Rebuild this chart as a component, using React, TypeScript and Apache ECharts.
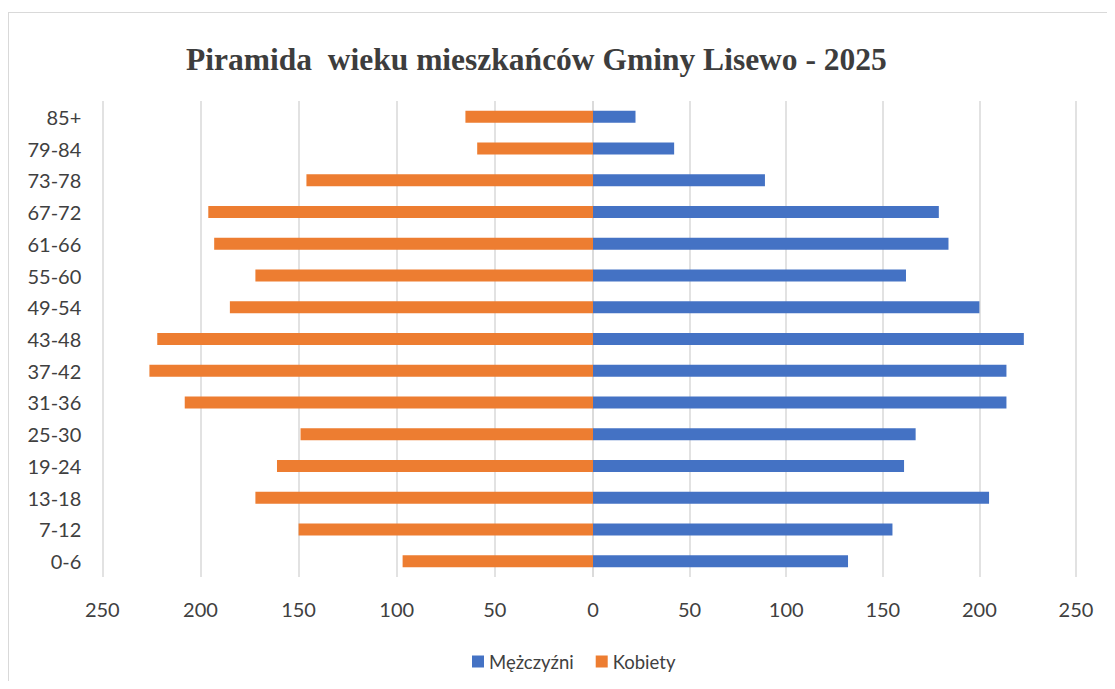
import React, { useEffect, useRef } from "react";
import * as echarts from "echarts";

const categories = ["0-6", "7-12", "13-18", "19-24", "25-30", "31-36", "37-42", "43-48", "49-54", "55-60", "61-66", "67-72", "73-78", "79-84", "85+"];
const men = [132, 155, 205, 161, 167, 214, 214, 223, 200, 162, 184, 179, 89, 42, 22];
const women = [97, 150, 172, 161, 149, 208, 226, 222, 185, 172, 193, 196, 146, 59, 65];
const seriesNames = ["Mężczyźni", "Kobiety"];
const titleText = "Piramida  wieku mieszkańców Gminy Lisewo - 2025";

const LABEL_FONT = "Lato, 'Open Sans', sans-serif";
const TEXT_COLOR = "#404040";
const GRID_COLOR = "#d9d9d9";

export default function App() {
  const ref = useRef<HTMLDivElement>(null);
  useEffect(() => {
    if (!ref.current) return;
    const chart = echarts.init(ref.current, undefined, { renderer: "svg" });
    const splitLine = { show: true, lineStyle: { color: GRID_COLOR, width: 1.5 } };
    chart.setOption({
      animation: false,
      title: {
        text: titleText,
        left: 178,
        top: 31,
        padding: 0,
        textStyle: {
          fontFamily: "'Liberation Serif', 'Times New Roman', serif",
          fontWeight: "bold",
          fontSize: 31.5,
          color: "#3d3d3d",
        },
      },
      legend: {
        data: seriesNames,
        left: 459,
        top: 635,
        icon: "rect",
        itemWidth: 12,
        itemHeight: 12,
        itemGap: 22,
        textStyle: { fontFamily: LABEL_FONT, fontSize: 18.5, color: TEXT_COLOR },
      },
      grid: [
        { left: 94.3, top: 89, width: 490.7, height: 476 },
        { left: 585, top: 89, width: 483, height: 476 },
      ],
      xAxis: [
        {
          gridIndex: 0,
          type: "value",
          min: 0,
          max: 250,
          interval: 50,
          inverse: true,
          axisLine: { show: false },
          axisTick: { show: false },
          splitLine,
          axisLabel: { fontFamily: LABEL_FONT, fontSize: 20, color: TEXT_COLOR, margin: 22 },
        },
        {
          gridIndex: 1,
          type: "value",
          min: 0,
          max: 250,
          interval: 50,
          axisLine: { show: false },
          axisTick: { show: false },
          splitLine,
          axisLabel: { fontFamily: LABEL_FONT, fontSize: 20, color: TEXT_COLOR, margin: 22, showMinLabel: false },
        },
      ],
      yAxis: [
        {
          gridIndex: 0,
          type: "category",
          data: categories,
          position: "left",
          axisLine: { show: false, onZero: false },
          axisTick: { show: false },
          splitLine: { show: false },
          axisLabel: { fontFamily: LABEL_FONT, fontSize: 20, color: TEXT_COLOR, margin: 21 },
        },
        {
          gridIndex: 1,
          type: "category",
          data: categories,
          axisLine: { show: false, onZero: false },
          axisTick: { show: false },
          splitLine: { show: false },
          axisLabel: { show: false },
        },
      ],
      series: [
        {
          name: seriesNames[0],
          type: "bar",
          xAxisIndex: 1,
          yAxisIndex: 1,
          data: men,
          barWidth: 12,
          itemStyle: { color: "#4472C4" },
        },
        {
          name: seriesNames[1],
          type: "bar",
          xAxisIndex: 0,
          yAxisIndex: 0,
          data: women,
          barWidth: 12,
          itemStyle: { color: "#ED7D31" },
        },
      ],
    });
    return () => chart.dispose();
  }, []);

  return (
    <div
      style={{
        position: "relative",
        width: 1099,
        height: 669,
        marginTop: 4,
        borderLeft: "1px solid #d9d9d9",
        borderTop: "1px solid #d9d9d9",
        boxSizing: "border-box",
      }}
    >
      <div ref={ref} style={{ position: "absolute", left: -1, top: -1, width: 1099, height: 669 }} />
    </div>
  );
}
